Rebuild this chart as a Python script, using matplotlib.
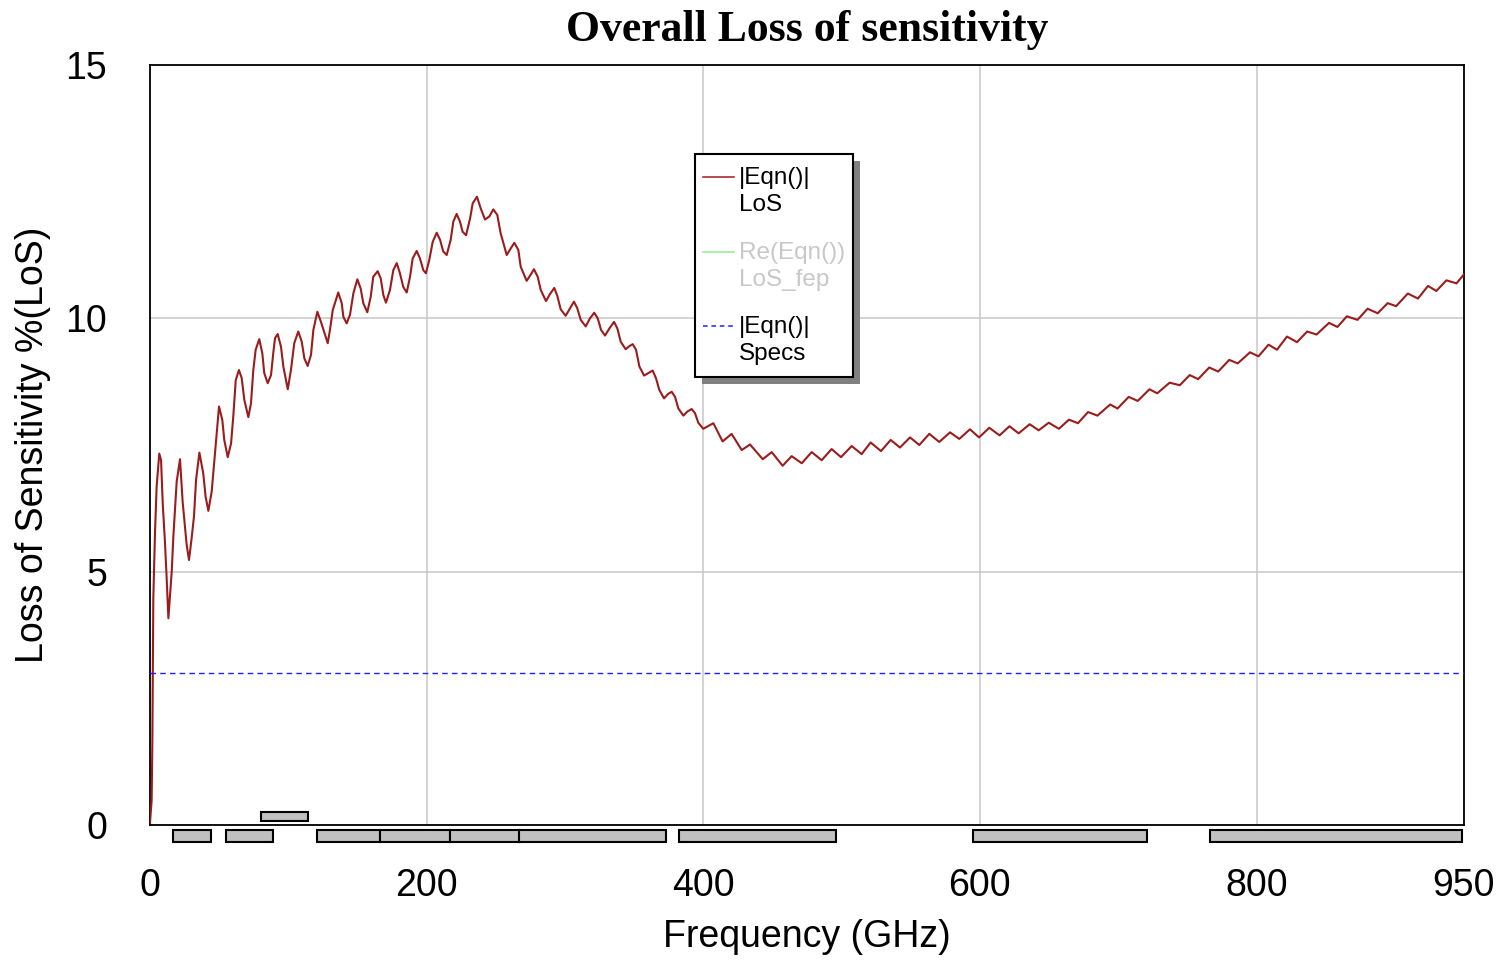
import matplotlib
matplotlib.use('Agg')
import matplotlib.pyplot as plt
from matplotlib.patches import Rectangle
from matplotlib.lines import Line2D

# ---------------- data ----------------
freq = [0.0, 1.2, 1.7, 2.4, 3.6, 4.8, 6.7, 8.0, 9.2, 10.8, 12.0, 13.3,
        15.7, 16.9, 18.1, 19.3, 21.7, 23.6, 25.3, 26.5, 28.2,
        30.1, 31.8, 33.3, 35.7, 38.5, 40.2, 42.2, 44.6,
        47.0, 49.9, 52.3, 53.7, 56.2, 58.6, 60.2, 62.0, 64.3, 66.3, 68.2,
        71.1, 73.0, 74.7, 76.4, 79.0, 81.2, 82.6, 85.1, 87.5, 89.1, 90.4,
        92.3, 94.7, 96.4, 99.6, 101.9, 104.3, 107.2, 109.7, 111.6, 114.0,
        116.4, 118.1, 121.0, 123.6, 128.5, 130.1, 132.1, 136.1, 138.6, 139.8,
        142.2, 144.6, 147.0, 149.9, 152.3, 154.2, 157.1, 159.6, 161.4, 164.6,
        166.8, 168.7, 170.6, 173.5, 175.9, 178.4, 180.7, 183.1, 185.6, 188.0,
        189.9, 192.8, 195.2, 197.6, 199.5, 201.9, 204.4, 207.3, 209.7, 212.0,
        214.5, 217.4, 219.3, 221.7, 224.1, 226.0, 228.5, 231.4, 233.3, 236.4,
        239.1, 242.2, 245.3, 248.2, 251.1, 253.5, 257.9, 260.8, 263.4, 266.3,
        268.0, 272.3, 275.2, 277.6, 280.3, 282.5, 286.3, 289.2, 292.3, 294.5,
        296.9, 300.5, 303.7, 306.5, 308.9, 311.4, 315.0, 318.1, 321.2, 323.7,
        326.1, 329.0, 332.1, 335.5, 337.9, 340.3, 343.9, 346.5, 349.0, 351.4,
        353.8, 357.2, 360.3, 363.4, 365.8, 368.2, 371.6, 374.7, 377.2, 379.6,
        382.0, 385.6, 388.5, 391.6, 394.0, 396.4, 400.0, 407.3,
        414.0, 420.5, 427.8, 433.8, 443.0, 449.5, 457.4, 463.9, 471.2, 478.4,
        485.6, 492.8, 499.6, 507.3, 514.5, 521.0, 528.5, 535.5, 542.2, 549.5,
        556.2, 563.4, 570.6, 578.4, 585.1, 592.8, 599.4, 606.8, 614.2, 621.4,
        628.0, 636.0, 642.5, 649.8, 657.1, 664.4, 670.9, 678.2, 685.0, 694.2,
        699.5, 707.6, 714.1, 722.6, 728.2, 737.2, 744.5, 751.7, 757.8, 765.8,
        772.3, 780.3, 786.4, 795.3, 801.4, 808.7, 814.8, 822.0, 829.3, 836.6,
        843.4, 852.4, 858.5, 865.3, 873.0, 880.3, 887.6, 894.8, 900.9, 909.4,
        916.7, 924.0, 930.0, 937.3, 944.6, 950.0]
los = [0.05, 0.49, 1.62, 4.48, 5.76, 6.68, 7.33, 7.20, 6.35, 5.59, 4.90, 4.08,
       5.00, 5.70, 6.25, 6.78, 7.22, 6.38, 5.89, 5.53, 5.23,
       5.66, 6.09, 6.81, 7.35, 6.94, 6.48, 6.20, 6.58,
       7.34, 8.26, 7.99, 7.60, 7.26, 7.53, 8.06, 8.78, 8.98, 8.82, 8.39,
       8.05, 8.32, 8.98, 9.38, 9.59, 9.31, 8.92, 8.72, 8.88, 9.31, 9.61,
       9.69, 9.44, 9.05, 8.60, 8.98, 9.51, 9.74, 9.54, 9.21, 9.06,
       9.28, 9.77, 10.13, 9.93, 9.51, 9.77, 10.16, 10.51, 10.30, 10.03,
       9.90, 10.07, 10.49, 10.77, 10.59, 10.30, 10.12, 10.43, 10.82, 10.93,
       10.79, 10.46, 10.31, 10.56, 10.95, 11.09, 10.89, 10.62, 10.51, 10.82,
       11.18, 11.33, 11.18, 10.95, 10.89, 11.15, 11.51, 11.69, 11.55, 11.32,
       11.25, 11.55, 11.91, 12.06, 11.91, 11.71, 11.64, 11.97, 12.27, 12.40,
       12.17, 11.95, 12.01, 12.15, 12.04, 11.68, 11.25, 11.38, 11.49, 11.35,
       11.02, 10.74, 10.86, 10.97, 10.82, 10.56, 10.34, 10.48, 10.60, 10.44,
       10.18, 10.05, 10.20, 10.33, 10.20, 9.97, 9.84, 10.00, 10.11, 10.00,
       9.77, 9.66, 9.80, 9.93, 9.80, 9.54, 9.39, 9.45, 9.49, 9.38,
       9.05, 8.87, 8.92, 8.97, 8.82, 8.59, 8.42, 8.51, 8.55, 8.45,
       8.22, 8.08, 8.16, 8.21, 8.13, 7.94, 7.82, 7.93,
       7.57, 7.72, 7.40, 7.51, 7.22, 7.36, 7.09, 7.28, 7.14, 7.36,
       7.20, 7.42, 7.26, 7.48, 7.32, 7.55, 7.38, 7.60, 7.45, 7.65,
       7.50, 7.72, 7.56, 7.75, 7.62, 7.81, 7.65, 7.84, 7.69, 7.87,
       7.73, 7.91, 7.79, 7.94, 7.82, 8.00, 7.93, 8.15, 8.08, 8.30,
       8.22, 8.45, 8.37, 8.60, 8.52, 8.73, 8.68, 8.88, 8.80, 9.03,
       8.95, 9.18, 9.11, 9.33, 9.25, 9.48, 9.38, 9.64, 9.53, 9.74,
       9.68, 9.91, 9.83, 10.04, 9.97, 10.19, 10.10, 10.30, 10.24, 10.49,
       10.39, 10.64, 10.54, 10.75, 10.69, 10.87]
spec_level = 3.0
lower_bars = [(16.9, 44.4), (54.6, 88.8), (120.7, 166.1), (166.5, 216.7),
              (217.1, 267.5), (267.0, 373.0), (382.5, 495.7), (594.8, 721.0),
              (766.6, 948.9)]
upper_bar = (80.0, 114.2)
xticks = [0, 200, 400, 600, 800, 950]
yticks = [0, 5, 10, 15]
legend_labels = [("|Eqn()|", "LoS"), ("Re(Eqn())", "LoS_fep"), ("|Eqn()|", "Specs")]

# ---------------- figure ----------------
W, H = 1504, 961
fig = plt.figure(figsize=(W / 100, H / 100), dpi=100)
fig.patch.set_facecolor('white')
SANS = ['Liberation Sans', 'DejaVu Sans']
SERIF = ['Liberation Serif', 'DejaVu Serif']

ax = fig.add_axes([150 / W, 1 - 825 / H, 1314 / W, 760 / H])
ax.set_xlim(0, 950)
ax.set_ylim(0, 15)
ax.set_xticks(xticks)
ax.set_yticks(yticks)
ax.tick_params(length=0, labelsize=27, pad=31)
for lab in ax.get_xticklabels() + ax.get_yticklabels():
    lab.set_family(SANS)
ax.grid(True, color='#c8c8c8', linewidth=1.1)
ax.set_axisbelow(True)
for s in ax.spines.values():
    s.set_linewidth(1.3)
    s.set_color('black')

ax.plot(freq, los, color='#9b1c1c', linewidth=1.5, zorder=3,
        solid_joinstyle='round')
ax.axhline(spec_level, color='#2020ff', linewidth=1.0, linestyle=(0, (4, 3)), zorder=3)

bar_kw = dict(facecolor='#c0c0c0', edgecolor='black', linewidth=1.5, clip_on=False, zorder=4)
for x0, x1 in lower_bars:
    ax.add_patch(Rectangle((x0, -0.34), x1 - x0, 0.25, **bar_kw))
ax.add_patch(Rectangle((upper_bar[0], 0.07), upper_bar[1] - upper_bar[0], 0.19, **bar_kw))

# titles / labels
fig.text(807 / W, 1 - 41 / H, "Overall Loss of sensitivity", family=SERIF,
         fontweight='bold', fontsize=31.5, ha='center', va='baseline')
fig.text(807 / W, 1 - 937 / H, "Frequency (GHz)", family=SANS, fontsize=27,
         ha='center', va='center')
fig.text(33 / W, 1 - 445 / H, "Loss of Sensitivity %(LoS)", family=SANS, fontsize=27,
         rotation=90, ha='center', va='center')

# legend (drawn manually to mimic the original layout)
def fx(px):
    return px / W

def fy(py):
    return 1 - py / H

fig.patches.append(Rectangle((fx(702), fy(384)), fx(860) - fx(702), fy(161) - fy(384),
                             transform=fig.transFigure, facecolor='#808080',
                             edgecolor='none', zorder=5))
fig.patches.append(Rectangle((fx(695), fy(377)), fx(853) - fx(695), fy(154) - fy(377),
                             transform=fig.transFigure, facecolor='white',
                             edgecolor='black', linewidth=1.5, zorder=6))
handle_styles = [dict(color='#9b1c1c', linestyle='-'),
                 dict(color='#90ee90', linestyle='-'),
                 dict(color='#2020ff', linestyle=(0, (3, 2.5)))]
text_colors = ['black', '#c8c8c8', 'black']
entry_y = [177, 252, 326]
for (l1, l2), hs, tc, y in zip(legend_labels, handle_styles, text_colors, entry_y):
    fig.lines.append(Line2D([fx(703), fx(734)], [fy(y), fy(y)], transform=fig.transFigure,
                            linewidth=1.1, zorder=7, **hs))
    fig.text(fx(739), fy(y + 1), l1, family=SANS, fontsize=17.5, color=tc,
             ha='left', va='center', zorder=7)
    fig.text(fx(739), fy(y + 28), l2, family=SANS, fontsize=17.5, color=tc,
             ha='left', va='center', zorder=7)

fig.savefig('out.png', dpi=100)
